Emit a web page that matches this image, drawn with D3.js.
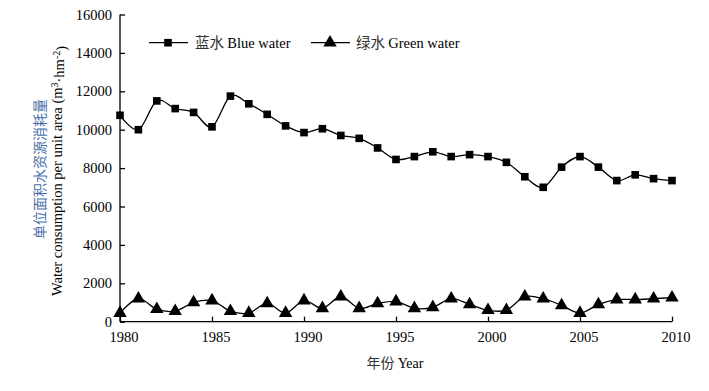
<head>
    <meta charset="utf-8">
    <style> body { margin: 0; background: #fff; } </style>
    <script src="https://d3js.org/d3.v7.min.js"></script>
</head>
<body>
    <div id="chart"></div>
    <script>
        const years = d3.range(1980, 2011);
        const blueWater = [10750, 10000, 11500, 11100, 10900, 10150, 11750, 11350, 10800, 10200,
                           9850, 10050, 9700, 9550, 9050, 8450, 8600, 8850, 8600, 8700,
                           8600, 8300, 7550, 7000, 8050, 8600, 8050, 7350, 7650, 7450, 7350];
        const greenWater = [450, 1200, 650, 550, 1000, 1100, 550, 450, 950, 450,
                            1100, 700, 1300, 700, 950, 1050, 700, 750, 1200, 900,
                            600, 600, 1300, 1200, 850, 450, 900, 1150, 1150, 1200, 1250];
        const yTicks = [0, 2000, 4000, 6000, 8000, 10000, 12000, 14000, 16000];
        const xTicks = [1980, 1985, 1990, 1995, 2000, 2005, 2010];

        const width = 709, height = 391;
        const serif = "'Liberation Serif', 'Times New Roman', serif";
        const cjk = "'Noto Sans CJK SC', sans-serif";

        const svg = d3.select("#chart").append("svg")
            .attr("width", width)
            .attr("height", height);

        const x = d3.scaleLinear().domain([1980, 2010]).range([120, 672]);
        const y = d3.scaleLinear().domain([0, 16000]).range([321.7, 14.5]);

        // axes
        const yAxis = svg.append("g")
            .attr("transform", "translate(120,0)")
            .call(d3.axisRight(y).tickValues(yTicks).tickSize(5).tickFormat(d3.format("d")));
        yAxis.selectAll("text").remove();
        yAxis.select(".domain").attr("d", "M0,14.5V321.7");
        yAxis.selectAll("line, path").attr("stroke", "#000").attr("stroke-width", 1.3);

        svg.append("g").selectAll("text")
            .data(yTicks)
            .enter().append("text")
            .attr("x", 112)
            .attr("y", d => y(d))
            .attr("dy", "0.35em")
            .attr("text-anchor", "end")
            .style("font-family", serif)
            .style("font-size", "14.5px")
            .text(d => d);

        const xAxis = svg.append("g")
            .attr("transform", "translate(0,321.7)")
            .call(d3.axisTop(x).tickValues(xTicks).tickSize(5).tickFormat(d3.format("d")));
        xAxis.selectAll("text").remove();
        xAxis.select(".domain").attr("d", "M120,0H672");
        xAxis.selectAll("line, path").attr("stroke", "#000").attr("stroke-width", 1.3);

        svg.append("g").selectAll("text")
            .data(xTicks)
            .enter().append("text")
            .attr("x", d => x(d) + 4)
            .attr("y", 342)
            .attr("text-anchor", "middle")
            .style("font-family", serif)
            .style("font-size", "14.5px")
            .text(d => d);

        // axis titles
        const xt = svg.append("text")
            .attr("x", 395)
            .attr("y", 368)
            .attr("text-anchor", "middle")
            .style("font-size", "14px");
        xt.append("tspan").style("font-family", cjk).style("fill", "#333").text("年份 ");
        xt.append("tspan").style("font-family", serif).text("Year");

        svg.append("text")
            .attr("transform", "translate(45,169) rotate(-90)")
            .attr("text-anchor", "middle")
            .style("font-family", cjk)
            .style("font-size", "14px")
            .style("fill", "#4a6fa8")
            .text("单位面积水资源消耗量");

        const yt = svg.append("text")
            .attr("transform", "translate(62,171) rotate(-90)")
            .attr("text-anchor", "middle")
            .style("font-family", serif)
            .style("font-size", "14.5px");
        yt.append("tspan").text("Water consumption per unit area (m");
        yt.append("tspan").attr("dy", "-0.45em").style("font-size", "10px").text("3");
        yt.append("tspan").attr("dy", "0.45em").text("·hm");
        yt.append("tspan").attr("dy", "-0.45em").style("font-size", "10px").text("-2");
        yt.append("tspan").attr("dy", "0.45em").text(")");

        // lines
        const line = d3.line()
            .x(d => x(d[0]))
            .y(d => y(d[1]))
            .curve(d3.curveCardinal.tension(0));

        const blueData = years.map((yr, i) => [yr, blueWater[i]]);
        const greenData = years.map((yr, i) => [yr, greenWater[i]]);

        svg.append("path").datum(blueData)
            .attr("d", line)
            .attr("fill", "none")
            .attr("stroke", "#000")
            .attr("stroke-width", 1.3);
        svg.append("path").datum(greenData)
            .attr("d", line)
            .attr("fill", "none")
            .attr("stroke", "#000")
            .attr("stroke-width", 1.3);

        const square = d3.symbol().type(d3.symbolSquare).size(58);
        const triangle = d3.symbol().type(d3.symbolTriangle).size(78);

        svg.append("g").selectAll("path")
            .data(blueData)
            .enter().append("path")
            .attr("d", square)
            .attr("transform", d => `translate(${x(d[0])},${y(d[1])})`)
            .attr("fill", "#000");

        svg.append("g").selectAll("path")
            .data(greenData)
            .enter().append("path")
            .attr("d", triangle)
            .attr("transform", d => `translate(${x(d[0])},${y(d[1])})`)
            .attr("fill", "#000");

        // legend
        const legend = svg.append("g");
        legend.append("line").attr("x1", 149).attr("x2", 188).attr("y1", 42.7).attr("y2", 42.7)
            .attr("stroke", "#000").attr("stroke-width", 1.3);
        legend.append("path").attr("d", square).attr("transform", "translate(168,42.7)");
        const l1 = legend.append("text").attr("x", 195).attr("y", 47.5).style("font-size", "14.5px");
        l1.append("tspan").style("font-family", cjk).style("fill", "#333").text("蓝水 ");
        l1.append("tspan").style("font-family", serif).text("Blue water");

        legend.append("line").attr("x1", 311).attr("x2", 350).attr("y1", 42.7).attr("y2", 42.7)
            .attr("stroke", "#000").attr("stroke-width", 1.3);
        legend.append("path").attr("d", triangle).attr("transform", "translate(330,42.7)");
        const l2 = legend.append("text").attr("x", 356).attr("y", 47.5).style("font-size", "14.5px");
        l2.append("tspan").style("font-family", cjk).style("fill", "#333").text("绿水 ");
        l2.append("tspan").style("font-family", serif).text("Green water");
    </script>
</body>
